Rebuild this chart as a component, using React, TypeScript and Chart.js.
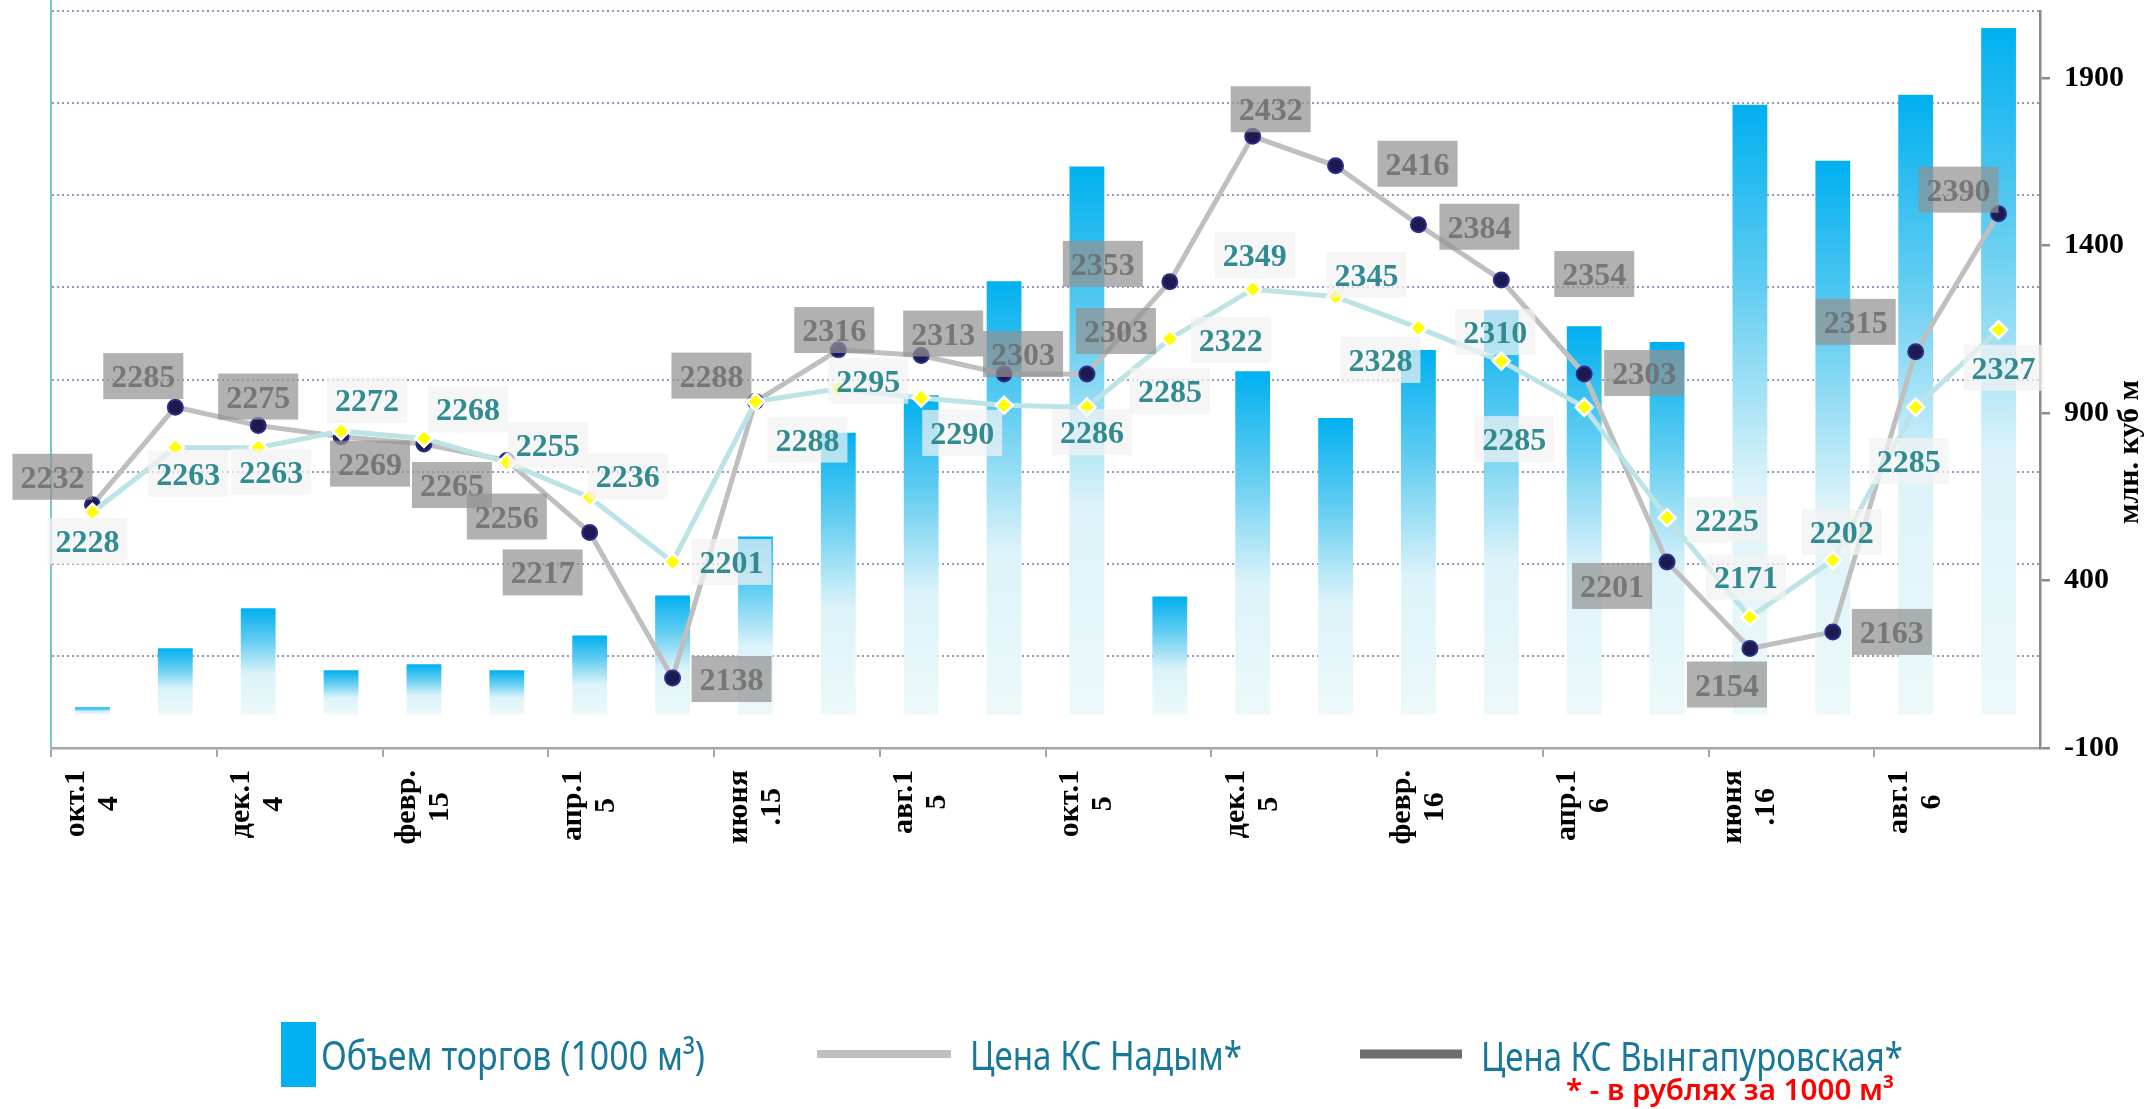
import React, { useEffect, useRef } from 'react';
import { Chart, registerables } from 'chart.js';

Chart.register(...registerables);

// ---------- data ----------
const categories = [
  'окт.14', 'ноя.14', 'дек.14', 'янв.15', 'февр.15', 'мар.15', 'апр.15', 'мая.15',
  'июня.15', 'июля.15', 'авг.15', 'сент.15', 'окт.15', 'ноя.15', 'дек.15', 'янв.16',
  'февр.16', 'мар.16', 'апр.16', 'мая.16', 'июня.16', 'июля.16', 'авг.16', 'сент.16',
];
// tick labels shown on every second category, as wrapped lines
const tickLabelLines: string[][] = [
  ['окт.1', '4'], ['дек.1', '4'], ['февр.', '15'], ['апр.1', '5'], ['июня', '.15'], ['авг.1', '5'],
  ['окт.1', '5'], ['дек.1', '5'], ['февр.', '16'], ['апр.1', '6'], ['июня', '.16'], ['авг.1', '6'],
];
const volume = [
  22, 198, 317, 132, 150, 132, 236, 355, 531, 841, 953, 1293,
  1636, 352, 1025, 885, 1088, 1207, 1159, 1112, 1820, 1653, 1850, 2049,
];
const priceNadym = [
  2232, 2285, 2275, 2269, 2265, 2256, 2217, 2138, 2288, 2316, 2313, 2303,
  2303, 2353, 2432, 2416, 2384, 2354, 2303, 2201, 2154, 2163, 2315, 2390,
];
const priceVyngapur = [
  2228, 2263, 2263, 2272, 2268, 2255, 2236, 2201, 2288, 2295, 2290, 2286,
  2285, 2322, 2349, 2345, 2328, 2310, 2285, 2225, 2171, 2202, 2285, 2327,
];
const rightTicks = [-100, 400, 900, 1400, 1900];
const legendVolume = 'Объем торгов (1000 м³)';
const legendNadym = 'Цена КС Надым*';
const legendVyngapur = 'Цена КС Вынгапуровская*';
const footnote = '* - в рублях за 1000 м³';
const rightAxisTitle = 'млн. куб м';

// ---------- label layout (pixel offsets of value boxes from their points) ----------
const nadymLabelOffsets: [number, number][] = [
  [-40, -28], [-32, -31], [0, -29], [29, 27], [28, 41], [0, 56], [-47, 40], [59, 1],
  [-44, -26], [-4, -20], [22, -22], [19, -20], [29, -43], [-67, -18], [18, -27], [82, -2],
  [61, 2], [93, -6], [60, -1], [-55, 24], [-23, 36], [59, 0], [-60, -30], [-40, -24],
];
const vyngapurLabelOffsets: [number, number][] = [
  [-5, 29], [13, 26], [13, 24], [26, -31], [44, -29], [41, -17], [38, -21], [59, 0],
  [52, 38], [30, -8], [41, 35], [88, 27], [83, -16], [61, 1], [2, -34], [31, -22],
  [-38, 32], [-6, -29], [-70, 32], [60, 2], [-4, -40], [9, -28], [-7, 54], [5, 38],
];

const SERIF = '"Liberation Serif", "Times New Roman", serif';
const SANS = '"Noto Sans", "Open Sans", sans-serif';

function drawValueBox(ctx: CanvasRenderingContext2D, cx: number, cy: number, text: string, box: string, color: string) {
  ctx.fillStyle = box;
  ctx.fillRect(cx - 40, cy - 23, 80, 46);
  ctx.fillStyle = color;
  ctx.font = `bold 32px ${SERIF}`;
  ctx.textAlign = 'center';
  ctx.textBaseline = 'alphabetic';
  ctx.fillText(text, cx, cy + 11);
}

function fitText(ctx: CanvasRenderingContext2D, text: string, x: number, baseline: number, width: number, font: string, color: string) {
  ctx.save();
  ctx.font = font;
  const w = ctx.measureText(text).width;
  ctx.translate(x, baseline);
  ctx.scale(width / w, 1);
  ctx.fillStyle = color;
  ctx.textAlign = 'left';
  ctx.textBaseline = 'alphabetic';
  ctx.fillText(text, 0, 0);
  ctx.restore();
}

const decorPlugin = {
  id: 'decor',
  afterDatasetsDraw(chart: any) {
    const ctx: CanvasRenderingContext2D = chart.ctx;
    ctx.save();
    const draw = (dsIndex: number, values: number[], offsets: [number, number][], box: string, color: string) => {
      const meta = chart.getDatasetMeta(dsIndex);
      meta.data.forEach((pt: any, i: number) => {
        const [dx, dy] = offsets[i];
        drawValueBox(ctx, pt.x + dx, pt.y + dy, String(values[i]), box, color);
      });
    };
    draw(2, priceNadym, nadymLabelOffsets, 'rgba(147,147,147,0.72)', 'rgba(105,105,105,0.8)');
    draw(1, priceVyngapur, vyngapurLabelOffsets, 'rgba(242,242,242,0.72)', '#318b90');
    ctx.restore();
  },
  afterDraw(chart: any) {
    const ctx: CanvasRenderingContext2D = chart.ctx;
    const x = chart.scales.x;
    const area = chart.chartArea;
    ctx.save();
    // left axis extension to top
    ctx.strokeStyle = '#7cc4cc';
    ctx.lineWidth = 2;
    ctx.beginPath();
    ctx.moveTo(area.left, 0);
    ctx.lineTo(area.left, area.top);
    ctx.stroke();

    // category labels, rotated, lines centred
    ctx.fillStyle = '#000';
    ctx.font = `bold 30px ${SERIF}`;
    tickLabelLines.forEach((lines, k) => {
      const cx = x.getPixelForValue(k * 2);
      const maxW = Math.max(...lines.map((l) => ctx.measureText(l).width));
      ctx.save();
      ctx.translate(cx, area.bottom + 22);
      ctx.rotate(-Math.PI / 2);
      ctx.textAlign = 'center';
      ctx.textBaseline = 'middle';
      lines.forEach((l, j) => {
        ctx.fillText(l, -maxW / 2, (j - (lines.length - 1) / 2) * 33);
      });
      ctx.restore();
    });

    // right axis title
    ctx.save();
    ctx.translate(2130, 452);
    ctx.rotate(-Math.PI / 2);
    ctx.font = `bold 30px ${SERIF}`;
    ctx.textAlign = 'center';
    ctx.textBaseline = 'middle';
    ctx.fillStyle = '#000';
    ctx.fillText(rightAxisTitle, 0, 0);
    ctx.restore();

    // legend
    const legendColor = '#187899';
    ctx.fillStyle = '#00b0f0';
    ctx.fillRect(281, 1022, 35, 65);
    fitText(ctx, legendVolume, 321, 1070, 384, `40px ${SANS}`, legendColor);

    ctx.strokeStyle = '#bfbfbf';
    ctx.lineWidth = 8;
    ctx.beginPath();
    ctx.moveTo(817, 1054);
    ctx.lineTo(951, 1054);
    ctx.stroke();
    fitText(ctx, legendNadym, 970, 1070, 272, `40px ${SANS}`, legendColor);

    ctx.strokeStyle = '#6d6d6d';
    ctx.lineWidth = 9;
    ctx.beginPath();
    ctx.moveTo(1360, 1054);
    ctx.lineTo(1462, 1054);
    ctx.stroke();
    fitText(ctx, legendVyngapur, 1481, 1071, 422, `40px ${SANS}`, legendColor);

    fitText(ctx, footnote, 1566, 1100, 328, `600 29px ${SANS}`, '#ff0000');
    ctx.restore();
  },
};

export default function App() {
  const ref = useRef<HTMLCanvasElement | null>(null);

  useEffect(() => {
    if (!ref.current) return;
    const barGradient = (c: any) => {
      const chart = c.chart;
      const sc = chart.scales?.y1;
      if (!sc || !chart.chartArea || c.dataIndex === undefined) return '#00b0f0';
      const v = volume[c.dataIndex];
      const top = sc.getPixelForValue(v);
      const base = sc.getPixelForValue(0);
      if (!isFinite(top) || !isFinite(base) || base - top < 1) return '#00b0f0';
      const g = chart.ctx.createLinearGradient(0, top, 0, base);
      g.addColorStop(0, '#00b0f0');
      g.addColorStop(0.3, '#62cdf1');
      g.addColorStop(0.62, '#dcf3f9');
      g.addColorStop(1, '#ecf9fa');
      return g;
    };

    const chart = new Chart(ref.current, {
      type: 'bar',
      data: {
        labels: categories,
        datasets: [
          {
            type: 'bar',
            label: legendVolume,
            data: volume,
            yAxisID: 'y1',
            backgroundColor: barGradient,
            borderWidth: 0,
            barPercentage: 0.42,
            categoryPercentage: 1,
            order: 2,
          },
          {
            type: 'line',
            label: legendVyngapur,
            data: priceVyngapur,
            yAxisID: 'y',
            borderColor: '#bce3e6',
            borderWidth: 5,
            tension: 0,
            pointStyle: 'rectRot',
            pointRadius: 8.5,
            pointBackgroundColor: '#ffff00',
            pointBorderColor: '#ffffff',
            pointBorderWidth: 2.5,
            order: 0,
          },
          {
            type: 'line',
            label: legendNadym,
            data: priceNadym,
            yAxisID: 'y',
            borderColor: '#bfbfbf',
            borderWidth: 5,
            tension: 0,
            pointStyle: 'circle',
            pointRadius: 7.5,
            pointBackgroundColor: '#1c1a4e',
            pointBorderColor: '#2b2d8c',
            pointBorderWidth: 2,
            order: 1,
          },
        ],
      } as any,
      options: {
        responsive: false,
        animation: false,
        devicePixelRatio: 1,
        events: [],
        layout: { padding: { top: 9, left: 0, right: 0, bottom: 0 } },
        plugins: { legend: { display: false }, tooltip: { enabled: false } },
        scales: {
          x: {
            type: 'category',
            offset: true,
            ticks: { display: false },
            grid: {
              offset: true,
              drawOnChartArea: false,
              drawTicks: true,
              tickLength: 9,
              lineWidth: 2,
              color: (c: any) => (c.index % 2 === 0 ? '#a6a6a6' : 'rgba(0,0,0,0)'),
            },
            border: { color: '#a6a6a6', width: 2.5 },
            afterFit: (s: any) => {
              s.height = 361;
              s.paddingLeft = 0;
              s.paddingRight = 0;
            },
          },
          y: {
            type: 'linear',
            position: 'left',
            min: 2100,
            max: 2500,
            ticks: { display: false, stepSize: 50 },
            grid: { color: '#9a96c2', lineWidth: 2, drawTicks: false },
            border: { color: '#7cc4cc', width: 2, dash: [2, 3] },
            afterFit: (s: any) => {
              s.width = 51;
              s.paddingTop = 0;
              s.paddingBottom = 0;
            },
          },
          y1: {
            type: 'linear',
            position: 'right',
            min: -100,
            max: 2100,
            afterBuildTicks: (s: any) => {
              s.ticks = rightTicks.map((v) => ({ value: v }));
            },
            ticks: {
              callback: (v: any) => String(v),
              color: '#000',
              padding: 14,
              font: { family: SERIF, size: 30, weight: 'bold' },
            },
            grid: { drawOnChartArea: false, tickLength: 10, color: '#8c8c8c', lineWidth: 2.5 },
            border: { color: '#8c8c8c', width: 2.5 },
            afterFit: (s: any) => {
              s.width = 112;
              s.paddingTop = 0;
              s.paddingBottom = 0;
            },
          },
        },
      } as any,
      plugins: [decorPlugin],
    });
    return () => chart.destroy();
  }, []);

  return (
    <div style={{ position: 'fixed', left: 0, top: 0, width: 2152, height: 1109, background: '#fff' }}>
      <canvas ref={ref} width={2152} height={1109} style={{ display: 'block' }} />
    </div>
  );
}
